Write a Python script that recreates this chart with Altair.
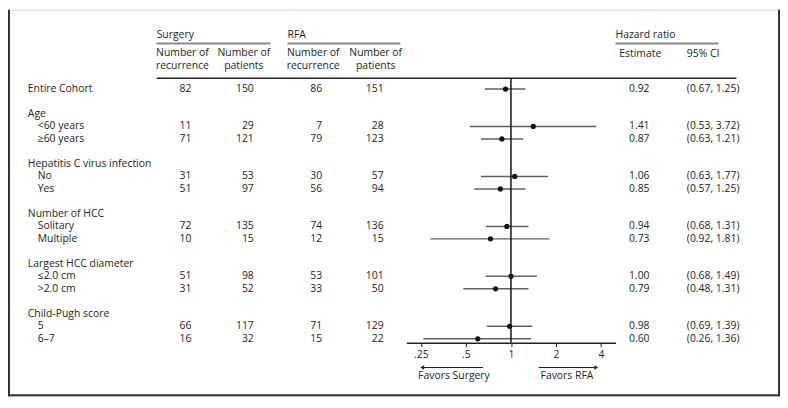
import altair as alt
import pandas as pd

# ---------------- data ----------------
labels = ["Entire Cohort", "Age", "<60 years", "≥60 years",
          "Hepatitis C virus infection", "No", "Yes",
          "Number of HCC", "Solitary", "Multiple",
          "Largest HCC diameter", "≤2.0 cm", ">2.0 cm",
          "Child-Pugh score", "5", "6–7"]
label_rows = [0, 2, 3, 4, 6, 7, 8, 10, 11, 12, 14, 15, 16, 18, 19, 20]
label_is_sub = [False, False, True, True, False, True, True, False, True, True,
                False, True, True, False, True, True]

data_rows = [0, 3, 4, 7, 8, 11, 12, 15, 16, 19, 20]
surg_rec = [82, 11, 71, 31, 51, 72, 10, 51, 31, 66, 16]
surg_pat = [150, 29, 121, 53, 97, 135, 15, 98, 52, 117, 32]
rfa_rec = [86, 7, 79, 30, 56, 74, 12, 53, 33, 71, 15]
rfa_pat = [151, 28, 123, 57, 94, 136, 15, 101, 50, 129, 22]
hr = [0.92, 1.41, 0.87, 1.06, 0.85, 0.94, 0.73, 1.00, 0.79, 0.98, 0.60]
ci_lo = [0.67, 0.53, 0.63, 0.63, 0.57, 0.68, 0.92, 0.68, 0.48, 0.69, 0.26]
ci_hi = [1.25, 3.72, 1.21, 1.77, 1.25, 1.31, 1.81, 1.49, 1.31, 1.39, 1.36]
# lower CI end as drawn in the figure (the "Multiple" line is drawn to ~0.29)
ci_lo_drawn = [0.67, 0.53, 0.63, 0.63, 0.57, 0.68, 0.29, 0.68, 0.48, 0.69, 0.26]

tick_values = [0.25, 0.5, 1, 2, 4]

# ---------------- frames ----------------
lab_df = pd.DataFrame({"label": labels, "row": label_rows, "sub": label_is_sub})
df = pd.DataFrame({
    "row": data_rows, "sr": surg_rec, "sp": surg_pat, "rr": rfa_rec, "rp": rfa_pat,
    "hr": hr, "lo": ci_lo_drawn, "hi": ci_hi,
    "est": [f"{v:.2f}" for v in hr],
    "ci": [f"({a:.2f}, {b:.2f})" for a, b in zip(ci_lo, ci_hi)],
})

W, H = 779, 390
FONT = "Open Sans"
FS = 10.5
TXT = "#262626"

xs = alt.Scale(type="log", domain=[0.2, 5], range=[402, 613], nice=False, zero=False)
ys = alt.Scale(domain=[0, 20], range=[80, 332], nice=False, zero=False)
xaxis = alt.Axis(values=tick_values, title=None, grid=False, offset=-54,
                 labelExpr="datum.value == 0.25 ? '.25' : datum.value == 0.5 ? '.5' : datum.label",
                 tickSize=4, tickColor="#222222", domainColor="#222222", domainWidth=1.5,
                 tickWidth=1, labelColor=TXT, labelFontSize=FS, labelFont=FONT,
                 labelPadding=3, labelFlush=False)
Y = alt.Y("row:Q", scale=ys, axis=None)


def text_layer(data, field, x, align="left"):
    return alt.Chart(data).mark_text(align=align, baseline="middle", font=FONT,
                                     fontSize=FS, color=TXT).encode(
        text=f"{field}:N", x=alt.value(x), y=Y)


def const_text(t, x, y, align="left"):
    return alt.Chart(pd.DataFrame({"t": [t]})).mark_text(
        align=align, baseline="middle", font=FONT, fontSize=FS, color=TXT,
        lineBreak="\n", lineHeight=13
    ).encode(text="t:N", x=alt.value(x), y=alt.value(y))


def hline(x1, x2, y, color, width):
    return alt.Chart(pd.DataFrame({"a": [0]})).mark_rule(color=color, strokeWidth=width).encode(
        x=alt.value(x1), x2=alt.value(x2), y=alt.value(y))


layers = []

# row labels
layers.append(alt.Chart(lab_df).transform_filter("!datum.sub").mark_text(
    align="left", baseline="middle", font=FONT, fontSize=FS, color=TXT
).encode(text="label:N", x=alt.value(20), y=Y))
layers.append(alt.Chart(lab_df).transform_filter("datum.sub").mark_text(
    align="left", baseline="middle", font=FONT, fontSize=FS, color=TXT
).encode(text="label:N", x=alt.value(30), y=Y))

# numeric columns
layers.append(text_layer(df, "sr", 185, "right"))
layers.append(text_layer(df, "sp", 248, "right"))
layers.append(text_layer(df, "rr", 317, "right"))
layers.append(text_layer(df, "rp", 379, "right"))
layers.append(text_layer(df, "est", 637, "center"))
layers.append(text_layer(df, "ci", 685, "left"))

# headers
layers += [
    const_text("Surgery", 150, 25),
    const_text("RFA", 282, 25),
    const_text("Hazard ratio", 613, 25),
    const_text("Number of\nrecurrence", 176, 44, "center"),
    const_text("Number of\npatients", 238, 44, "center"),
    const_text("Number of\nrecurrence", 308, 44, "center"),
    const_text("Number of\npatients", 371, 44, "center"),
    const_text("Estimate", 638, 45, "center"),
    const_text("95% CI", 685, 45, "left"),
    hline(150, 265, 34, "#8a8a8a", 2),
    hline(282, 396, 34, "#8a8a8a", 2),
    hline(613, 717, 34, "#8a8a8a", 2),
    hline(150, 735, 69, "#222222", 1.5),
]

# forest plot
layers.append(alt.Chart(df).mark_rule(color="#606060", strokeWidth=1.5).encode(
    x=alt.X("lo:Q", scale=xs, axis=xaxis), x2="hi:Q", y=Y))
layers.append(alt.Chart(pd.DataFrame({"one": [1]})).mark_rule(color="#111111", strokeWidth=1.5).encode(
    x=alt.X("one:Q", scale=xs, axis=xaxis), y=alt.value(69), y2=alt.value(336)))
layers.append(alt.Chart(df).mark_point(filled=True, color="#111111", size=28, opacity=1).encode(
    x=alt.X("hr:Q", scale=xs, axis=xaxis), y=Y))

# favour arrows
arr = pd.DataFrame({"from": [0.65, 1.53], "to": [0.262, 3.62],
                    "tip": [0.255, 3.72], "shape": ["triangle-left", "triangle-right"]})
layers.append(alt.Chart(arr).mark_rule(color="#222222", strokeWidth=1.2).encode(
    x=alt.X("from:Q", scale=xs, axis=xaxis), x2="to:Q", y=alt.value(361)))
layers.append(alt.Chart(arr).mark_point(filled=True, color="#222222", size=22, opacity=1).encode(
    x=alt.X("tip:Q", scale=xs, axis=xaxis), y=alt.value(361),
    shape=alt.Shape("shape:N", scale=None, legend=None)))
layers += [
    const_text("Favors Surgery", 450, 370, "center"),
    const_text("Favors RFA", 564, 370, "center"),
]

# frame (left, right, bottom)
layers += [
    alt.Chart(pd.DataFrame({"a": [0]})).mark_rule(color="#333333", strokeWidth=2).encode(
        x=alt.value(1), y=alt.value(0), y2=alt.value(H)),
    alt.Chart(pd.DataFrame({"a": [0]})).mark_rule(color="#333333", strokeWidth=2).encode(
        x=alt.value(W - 1), y=alt.value(0), y2=alt.value(H)),
    hline(0, W, H - 1, "#333333", 2),
]

chart = alt.layer(*layers).properties(
    width=W, height=H, padding=0, autosize=alt.AutoSizeParams(type="none")
).configure_view(stroke=None).configure(background="white")

chart.save("out.html", embed_options={"renderer": "svg", "actions": False})
